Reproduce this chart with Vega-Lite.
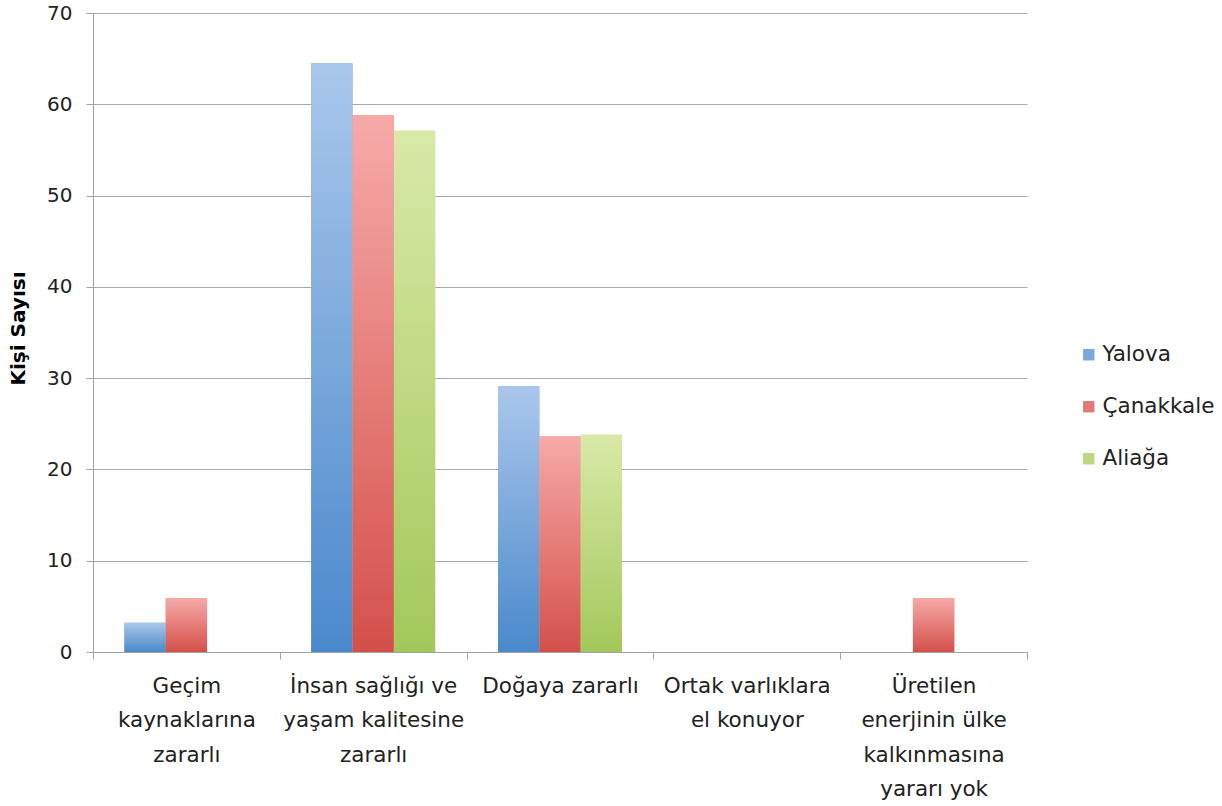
{
  "$schema": "https://vega.github.io/schema/vega-lite/v6.json",
  "width": 934,
  "height": 639,
  "autosize": "none",
  "padding": {"left": 93, "top": 13, "right": 195, "bottom": 154},
  "background": "white",
  "config": {
    "font": "DejaVu Sans",
    "view": {"stroke": null}
  },
  "data": {
    "values": [
      {"kategori": "Geçim kaynaklarına zararlı", "il": "Yalova", "kisi": 3.2},
      {"kategori": "Geçim kaynaklarına zararlı", "il": "Çanakkale", "kisi": 5.9},
      {"kategori": "Geçim kaynaklarına zararlı", "il": "Aliağa", "kisi": 0},
      {"kategori": "İnsan sağlığı ve yaşam kalitesine zararlı", "il": "Yalova", "kisi": 64.5},
      {"kategori": "İnsan sağlığı ve yaşam kalitesine zararlı", "il": "Çanakkale", "kisi": 58.8},
      {"kategori": "İnsan sağlığı ve yaşam kalitesine zararlı", "il": "Aliağa", "kisi": 57.1},
      {"kategori": "Doğaya zararlı", "il": "Yalova", "kisi": 29.1},
      {"kategori": "Doğaya zararlı", "il": "Çanakkale", "kisi": 23.6},
      {"kategori": "Doğaya zararlı", "il": "Aliağa", "kisi": 23.8},
      {"kategori": "Ortak varlıklara el konuyor", "il": "Yalova", "kisi": 0},
      {"kategori": "Ortak varlıklara el konuyor", "il": "Çanakkale", "kisi": 0},
      {"kategori": "Ortak varlıklara el konuyor", "il": "Aliağa", "kisi": 0},
      {"kategori": "Üretilen enerjinin ülke kalkınmasına yararı yok", "il": "Yalova", "kisi": 0},
      {"kategori": "Üretilen enerjinin ülke kalkınmasına yararı yok", "il": "Çanakkale", "kisi": 5.9},
      {"kategori": "Üretilen enerjinin ülke kalkınmasına yararı yok", "il": "Aliağa", "kisi": 0}
    ]
  },
  "encoding": {
    "x": {
      "field": "kategori",
      "type": "nominal",
      "sort": null,
      "scale": {
        "domain": ["Geçim kaynaklarına zararlı", "İnsan sağlığı ve yaşam kalitesine zararlı", "Doğaya zararlı", "Ortak varlıklara el konuyor", "Üretilen enerjinin ülke kalkınmasına yararı yok"],
        "paddingInner": 0,
        "paddingOuter": 0
      },
      "axis": {
        "title": null,
        "labelAngle": 0,
        "tickBand": "extent",
        "domainColor": "#a3a3a3",
        "tickColor": "#a3a3a3",
        "tickSize": 7,
        "labelFont": "DejaVu Sans",
        "labelFontSize": 21.5,
        "labelColor": "#222222",
        "labelLineHeight": 34.5,
        "labelPadding": 16,
        "labelBaseline": "top",
        "labelLimit": 0,
        "labelExpr": "datum.value === 'Geçim kaynaklarına zararlı' ? ['Geçim', 'kaynaklarına', 'zararlı'] : datum.value === 'İnsan sağlığı ve yaşam kalitesine zararlı' ? ['İnsan sağlığı ve', 'yaşam kalitesine', 'zararlı'] : datum.value === 'Ortak varlıklara el konuyor' ? ['Ortak varlıklara', 'el konuyor'] : datum.value === 'Üretilen enerjinin ülke kalkınmasına yararı yok' ? ['Üretilen', 'enerjinin ülke', 'kalkınmasına', 'yararı yok'] : datum.value"
      }
    },
    "xOffset": {
      "field": "il",
      "type": "nominal",
      "scale": {"domain": ["Yalova", "Çanakkale", "Aliağa"], "paddingInner": 0, "paddingOuter": 0.76}
    },
    "y": {
      "field": "kisi",
      "type": "quantitative",
      "scale": {"domain": [0, 70]},
      "axis": {
        "title": "Kişi Sayısı",
        "titleFont": "DejaVu Sans",
        "titleFontSize": 20,
        "titleFontWeight": "bold",
        "titleColor": "#000000",
        "titleAlign": "center",
        "titleX": -65,
        "titleY": 315,
        "values": [0, 10, 20, 30, 40, 50, 60, 70],
        "grid": true,
        "gridColor": "#a8a8a8",
        "domainColor": "#a3a3a3",
        "tickColor": "#a3a3a3",
        "tickSize": 7,
        "labelFont": "DejaVu Sans",
        "labelFontSize": 20,
        "labelColor": "#222222",
        "labelPadding": 14
      }
    }
  },
  "layer": [
    {
      "mark": {"type": "bar"},
      "encoding": {
        "color": {
          "field": "il",
          "type": "nominal",
          "scale": {"domain": ["Yalova", "Çanakkale", "Aliağa"], "range": ["#7aa8dd", "#e27a76", "#bdd780"]},
          "legend": {
            "title": null,
            "orient": "none",
            "legendX": 985,
            "legendY": 331,
            "symbolType": "square",
            "symbolSize": 130,
            "symbolStrokeWidth": 0,
            "labelFont": "DejaVu Sans",
            "labelFontSize": 21.5,
            "labelColor": "#222222",
            "labelOffset": 3,
            "rowPadding": 29
          }
        }
      }
    },
    {
      "transform": [{"filter": "datum.il === 'Yalova'"}],
      "mark": {
        "type": "bar",
        "color": {"gradient": "linear", "x1": 0, "y1": 0, "x2": 0, "y2": 1, "stops": [{"offset": 0, "color": "#aac7eb"}, {"offset": 1, "color": "#4a89cb"}]}
      }
    },
    {
      "transform": [{"filter": "datum.il === 'Çanakkale'"}],
      "mark": {
        "type": "bar",
        "color": {"gradient": "linear", "x1": 0, "y1": 0, "x2": 0, "y2": 1, "stops": [{"offset": 0, "color": "#f6aaa8"}, {"offset": 1, "color": "#d4504a"}]}
      }
    },
    {
      "transform": [{"filter": "datum.il === 'Aliağa'"}],
      "mark": {
        "type": "bar",
        "color": {"gradient": "linear", "x1": 0, "y1": 0, "x2": 0, "y2": 1, "stops": [{"offset": 0, "color": "#d9e9a8"}, {"offset": 1, "color": "#a3c85a"}]}
      }
    }
  ]
}
